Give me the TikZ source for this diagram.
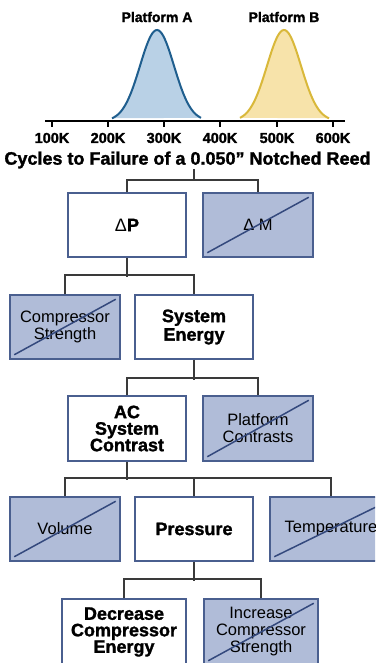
\documentclass[tikz,border=0pt]{standalone}
\usepackage{fontspec}
\setmainfont{Liberation Sans}[BoldFeatures={FakeBold=1.5}]
\definecolor{boxfill}{HTML}{B0BCD8}
\definecolor{boxedge}{HTML}{4A5F8F}
\definecolor{strikeline}{HTML}{34497D}
\definecolor{linkgray}{HTML}{3A3A3A}
\definecolor{curveAfill}{HTML}{B9D1E6}
\definecolor{curveAline}{HTML}{1F5E8E}
\definecolor{curveBfill}{HTML}{F7E3AA}
\definecolor{curveBline}{HTML}{D9B83A}
\begin{document}
\begin{tikzpicture}[x=1pt,y=-1pt,
  keep/.style={draw=boxedge,line width=1.5pt,fill=white,minimum width=118pt,minimum height=64pt,inner sep=0pt,align=center,font=\fontsize{18}{16.5}\selectfont\bfseries},
  dropped/.style={draw=boxedge,line width=1.5pt,fill=boxfill,minimum width=110pt,minimum height=64pt,inner sep=0pt,align=center,font=\fontsize{16.5}{17}\selectfont},
  link/.style={draw=linkgray,line width=2pt},
  strike/.style={draw=strikeline,line width=1.5pt}]
\clip (0,0) rectangle (375,663);
% the two failure curves
\fill[curveAfill] plot[domain=112:201,samples=60,smooth] (\x,{121-91*exp(-((\x-157)^2)/578)}) -- cycle;
\draw[curveAline,line width=2pt] plot[domain=112:201,samples=60,smooth] (\x,{121-91*exp(-((\x-157)^2)/578)});
\fill[curveBfill] plot[domain=240:329,samples=60,smooth] (\x,{121-91*exp(-((\x-284)^2)/578)}) -- cycle;
\draw[curveBline,line width=2pt] plot[domain=240:329,samples=60,smooth] (\x,{121-91*exp(-((\x-284)^2)/578)});
\node[font=\fontsize{14}{14}\selectfont\bfseries] (labA) at (157,17) {Platform A};
\node[font=\fontsize{14}{14}\selectfont\bfseries] (labB) at (284,17) {Platform B};
% axis
\draw[line width=2.5pt] (45,121) -- (345,121);
\foreach \t/\px in {100K/52,200K/108,300K/164,400K/220,500K/277,600K/333} {
  \draw[line width=2pt] (\px,121) -- (\px,127);
  \node[font=\fontsize{14.5}{14.5}\selectfont\bfseries] (tick\t) at (\px,138) {\t};
}
\node[font=\fontsize{18}{18}\selectfont\bfseries] (title) at (187.5,160) {Cycles to Failure of a 0.050” Notched Reed};
% tree
\node[keep] (dP) at (127,225) {{\mdseries Δ}P};
\node[dropped] (dM) at (258,225) {Δ M};
\node[dropped] (cs) at (65,327) {Compressor\\Strength};
\node[keep] (se) at (194,327) {System\\[2pt]Energy};
\node[keep,minimum height=65pt] (ac) at (127,428.5) {AC\\System\\Contrast};
\node[dropped,minimum height=65pt] (pc) at (258,428.5) {Platform\\Contrasts};
\node[dropped] (vol) at (65,529) {Volume};
\node[keep] (pr) at (194,529) {Pressure};
\node[dropped,minimum width=122pt] (tmp) at (331,529) {Temperature};
\node[keep,minimum width=124pt,minimum height=66pt] (dce) at (124,632) {Decrease\\Compressor\\Energy};
\node[dropped,minimum width=114pt,minimum height=66pt] (ics) at (261,632) {Increase\\Compressor\\Strength};
\foreach \n in {dM,cs,pc,vol,tmp,ics}
  \draw[strike] ([shift={(5,-5)}]\n.south west) -- ([shift={(-5,5)}]\n.north east);
\coordinate (stem) at (194,169);
\draw[link] (stem) -- ++(0,12);
\draw[link] (dP.north) -- ++(0,-12) -| (dM.north);
\draw[link] (dP.south) -- ++(0,19);
\draw[link] (cs.north) -- ++(0,-19) -| (se.north);
\draw[link] (se.south) -- ++(0,20);
\draw[link] (ac.north) -- ++(0,-17) -| (pc.north);
\draw[link] (ac.south) -- ++(0,18);
\draw[link] (vol.north) -- ++(0,-18) -| (tmp.north);
\draw[link] (pr.north) -- ++(0,-18);
\draw[link] (pr.south) -- ++(0,19);
\draw[link] (dce.north) -- ++(0,-19) -| (ics.north);
\end{tikzpicture}
\end{document}
